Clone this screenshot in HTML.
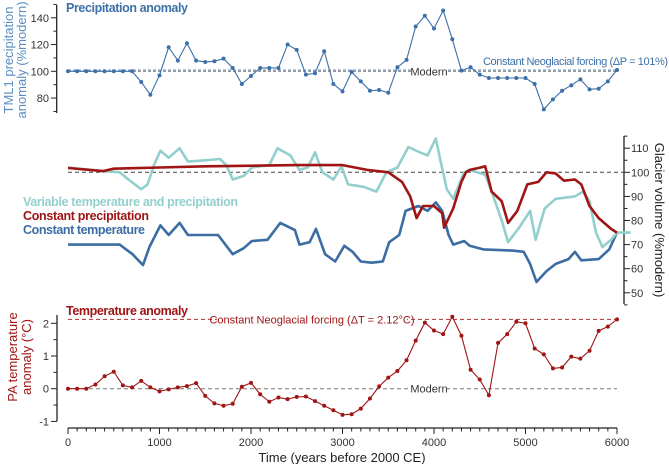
<!DOCTYPE html>
<html><head><meta charset="utf-8"><style>
body{margin:0;background:#fff;}
svg{display:block;font-family:"Liberation Sans",sans-serif;}
</style></head><body>
<svg id="chart" width="669" height="464" viewBox="0 0 669 464"></svg>
<script>
// Top panel: precipitation anomaly (every 100 years)
const precipYears = Array.from({length:61},(_,i)=>i*100);
const precipValues = [100,100,100,100,100,100,100,100,92,82.5,97,118,108,121,108,107,107.5,109.5,102.5,90.5,96.5,102.5,102.5,102.5,120,116,97.5,98.5,115,90.5,85,99.5,92.5,85.5,86,84,103,108.5,133.5,141.5,132,145.5,124,100.5,103,97.5,95,95,95,95,95,90.5,71.5,79,85.5,89.5,94,86.5,87,92.5,101];
const precipTicks = [80,100,120,140];
// Bottom panel: temperature anomaly
const tempYears = Array.from({length:61},(_,i)=>i*100);
const tempValues = [0,0,0,0.13,0.38,0.52,0.1,0.04,0.24,0.04,-0.08,-0.02,0.04,0.08,0.17,-0.22,-0.45,-0.52,-0.46,0.06,0.18,-0.17,-0.4,-0.27,-0.32,-0.25,-0.24,-0.38,-0.52,-0.66,-0.8,-0.78,-0.61,-0.3,0.07,0.34,0.54,0.87,1.47,2.02,1.78,1.67,2.2,1.62,0.58,0.28,-0.2,1.4,1.67,2.05,2.0,1.23,1.05,0.62,0.65,0.98,0.92,1.16,1.77,1.9,2.12];
const tempTicks = [-1,0,1,2];
// Middle panel: glacier volume
const redT = [0,380,500,1000,1500,2500,3000,3270,3500,3650,3740,3810,3880,4000,4090,4110,4210,4300,4350,4390,4510,4560,4630,4740,4810,4910,5020,5140,5230,5330,5420,5540,5610,5700,5800,5935,6000];
const redV = [101.8,100.5,101.5,102,102.5,103,103,101,100,96,90,81,86,86,83,77,85,96,100,101,102,102.5,92,88,79,84,95,96,100,99.5,96.5,97,95,86,81,76.5,75];
const tealT = [0,380,565,660,800,870,940,1010,1100,1220,1310,1500,1660,1730,1800,1920,2010,2200,2290,2430,2530,2620,2700,2780,2900,2990,3060,3230,3370,3480,3600,3720,3860,3930,4020,4070,4140,4210,4330,4390,4560,4630,4740,4810,4930,5050,5110,5210,5330,5540,5630,5700,5770,5840,5935,6000,6150];
const tealV = [102,100.5,100,97,93,95,103,109,106,110,104.5,105,105.5,103,97,98.5,102,103,110,107,101,102,108.3,100,97,102.5,95,94,92,100,102,110.5,108,107,114,105,93,89,100,101,99,92,80,71,77,84,72,85,89,90,92,88,75,69,72,75,75];
const blueT = [0,565,705,820,890,1010,1100,1220,1310,1640,1800,1920,2010,2180,2320,2480,2530,2640,2710,2810,2920,3020,3110,3200,3320,3440,3510,3620,3690,3830,3930,4020,4090,4160,4210,4330,4390,4540,4860,4980,5050,5120,5230,5330,5470,5540,5610,5800,5915,6000];
const blueV = [70,70,66,61.5,69,78,74,79,74,74,66,68.5,71.5,72,79,76,70,71,76.5,66,63,69.5,67,63,62.5,63,71,74,84,86,84,87.5,84,74,70,71.5,69.5,68,67.5,67,62,54.5,59,62,64,67,63.5,64,68,75];
const glacierTicks = [50,60,70,80,90,100,110];
const xTicks = [0,1000,2000,3000,4000,5000,6000];

const NS="http://www.w3.org/2000/svg";
const svg=document.getElementById('chart');
const X = t => 68 + t*(617-68)/6000;
const Yp = v => 71.3 - (v-100)*1.3375;
const Yg = v => 172.3 - (v-100)*2.41;
const Yt = v => 388.7 - v*32.7;
function mk(tag,attrs,parent){const e=document.createElementNS(NS,tag);for(const k in attrs)e.setAttribute(k,attrs[k]);(parent||svg).appendChild(e);return e;}
function txt(s,attrs){const e=mk('text',attrs);e.textContent=s;return e;}

const BLUE='#3b6da3', TEAL='#93cfcd', RED='#a01414', PBLUE='#3d70a8';

// ---- top panel
let e;
e=mk('line',{x1:56.7,y1:5,x2:56.7,y2:113,stroke:'#222','stroke-width':1.3});

for(let v=70;v<=150;v+=10){e=mk('line',{x1:v%20==0?51:53.5,y1:Yp(v),x2:56.7,y2:Yp(v),stroke:'#222','stroke-width':1});
}
precipTicks.forEach(v=>{e=txt(v,{x:49,y:Yp(v)+4,'text-anchor':'end','font-size':11,fill:'#333'});
});
e=mk('line',{x1:68,y1:Yp(100),x2:617,y2:Yp(100),stroke:'#777','stroke-width':1,'stroke-dasharray':'3,2'});

e=mk('line',{x1:68,y1:Yp(101),x2:617,y2:Yp(101),stroke:'#6f93bd','stroke-width':1,'stroke-dasharray':'3,2'});

e=mk('rect',{x:411,y:Yp(100)-6,width:36,height:12,fill:'#fff'});
e=txt('Modern',{x:429,y:Yp(100)+4,'text-anchor':'middle','font-size':11,fill:'#333'});

e=txt('Constant Neoglacial forcing (\u0394P = 101%)',{x:668,y:65,'text-anchor':'end','font-size':11,fill:PBLUE,textLength:185});

e=mk('polyline',{points:precipYears.map((t,i)=>X(t)+','+Yp(precipValues[i])).join(' '),fill:'none',stroke:PBLUE,'stroke-width':1.1});

precipYears.forEach((t,i)=>{e=mk('circle',{cx:X(t),cy:Yp(precipValues[i]),r:2,fill:PBLUE});
});
e=txt('Precipitation anomaly',{x:66,y:12,'font-size':12.5,'font-weight':'bold',fill:PBLUE,textLength:122});

e=txt('TML1 precipitation',{x:0,y:0,'text-anchor':'middle','font-size':13,fill:'#5a8dc0',transform:'translate(13,60) rotate(-90)'});

e=txt('anomaly (%modern)',{x:0,y:0,'text-anchor':'middle','font-size':13,fill:'#5a8dc0',transform:'translate(26,60) rotate(-90)'});


// ---- middle panel
e=mk('line',{x1:624,y1:136,x2:624,y2:304,stroke:'#222','stroke-width':1.3});

for(let v=45;v<=115;v+=5){e=mk('line',{x1:624,y1:Yg(v),x2:v%10==0?630:627.5,y2:Yg(v),stroke:'#222','stroke-width':1});
}
glacierTicks.forEach(v=>{e=txt(v,{x:631,y:Yg(v)+4,'font-size':11,fill:'#333'});
});
e=txt('Glacier volume (%modern)',{x:0,y:0,'text-anchor':'middle','font-size':13,fill:'#222',transform:'translate(655,220) rotate(90)'});

e=mk('line',{x1:68,y1:Yg(100),x2:624,y2:Yg(100),stroke:'#444','stroke-width':1,'stroke-dasharray':'4,3'});

function series(T,V,c,name){const e=mk('polyline',{points:T.map((t,i)=>X(t).toFixed(1)+','+Yg(V[i]).toFixed(1)).join(' '),fill:'none',stroke:c,'stroke-width':2.6,'stroke-linejoin':'round'});
}
series(blueT,blueV,BLUE,'constant-temperature-line');
series(tealT,tealV,TEAL,'variable-line');
series(redT,redV,RED,'constant-precipitation-line');
e=txt('Variable temperature and precipitation',{x:23,y:206,'font-size':12.5,'font-weight':'bold',fill:TEAL,textLength:215});

e=txt('Constant precipitation',{x:23,y:220,'font-size':12.5,'font-weight':'bold',fill:RED,textLength:126});

e=txt('Constant temperature',{x:23,y:234,'font-size':12.5,'font-weight':'bold',fill:BLUE,textLength:122});


// ---- bottom panel
e=mk('line',{x1:57,y1:315,x2:57,y2:421.3,stroke:'#222','stroke-width':1.3});

for(let v=-1;v<=2.01;v+=0.5){e=mk('line',{x1:Math.abs(v%1)<0.01?51:53.5,y1:Yt(v),x2:57,y2:Yt(v),stroke:'#222','stroke-width':1});
}
tempTicks.forEach(v=>{e=txt(v,{x:49,y:Yt(v)+4,'text-anchor':'end','font-size':11,fill:'#333'});
});
e=mk('line',{x1:68,y1:Yt(0),x2:617,y2:Yt(0),stroke:'#777','stroke-width':1,'stroke-dasharray':'4,3'});

e=mk('line',{x1:68,y1:Yt(2.12),x2:617,y2:Yt(2.12),stroke:'#b03030','stroke-width':1,'stroke-dasharray':'4,3'});

mk('rect',{x:411,y:Yt(0)-6,width:36,height:12,fill:'#fff'});
e=txt('Modern',{x:429,y:Yt(0)+4,'text-anchor':'middle','font-size':11,fill:'#333'});

mk('rect',{x:217,y:Yt(2.12)-6,width:190,height:12,fill:'#fff'});
e=txt('Constant Neoglacial forcing (\u0394T = 2.12\u00b0C)',{x:312,y:Yt(2.12)+4,'text-anchor':'middle','font-size':11,fill:RED});

e=mk('polyline',{points:tempYears.map((t,i)=>X(t)+','+Yt(tempValues[i])).join(' '),fill:'none',stroke:RED,'stroke-width':1.1});

tempYears.forEach((t,i)=>{e=mk('circle',{cx:X(t),cy:Yt(tempValues[i]),r:2,fill:RED});
});
e=txt('Temperature anomaly',{x:66,y:315,'font-size':12.5,'font-weight':'bold',fill:RED,textLength:122});

e=txt('PA temperature',{x:0,y:0,'text-anchor':'middle','font-size':13,fill:RED,transform:'translate(17,357) rotate(-90)'});

e=txt('anomaly (\u00b0C)',{x:0,y:0,'text-anchor':'middle','font-size':13,fill:RED,transform:'translate(31,357) rotate(-90)'});


// ---- x axis
e=mk('line',{x1:68,y1:428,x2:617,y2:428,stroke:'#222','stroke-width':1.3});

for(let t=0;t<=6000;t+=100){e=mk('line',{x1:X(t),y1:428,x2:X(t),y2:t%1000==0?434:431.5,stroke:'#222','stroke-width':1});
}
xTicks.forEach(t=>{e=txt(t,{x:X(t),y:446,'text-anchor':'middle','font-size':11,fill:'#333'});
});
e=txt('Time (years before 2000 CE)',{x:342,y:462,'text-anchor':'middle','font-size':13,fill:'#222'});

</script>
</body></html>
